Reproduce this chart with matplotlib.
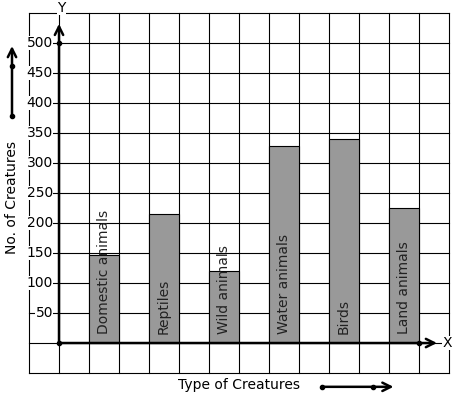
import matplotlib.pyplot as plt
import numpy as np

categories = ['Domestic animals', 'Reptiles', 'Wild animals', 'Water animals', 'Birds', 'Land animals']
counts = [147, 215, 120, 328, 340, 225]
y_ticks = [50, 100, 150, 200, 250, 300, 350, 400, 450, 500]

# one grid cell = 1 unit across, 50 creatures up
fig = plt.figure(figsize=(4.57, 3.99), dpi=100)
ax = fig.add_axes([0, 0, 1, 1])
ax.set_xlim(-1.967, 13.267)
ax.set_ylim(-93.3, 571.7)
ax.axis('off')

# grid paper
for gx in range(-1, 14):
    ax.plot([gx, gx], [-50, 550], color='black', lw=0.8, zorder=1)
for gy in range(-50, 551, 50):
    ax.plot([-1, 13], [gy, gy], color='black', lw=0.8, zorder=1)

# bars
xpos = np.arange(len(categories)) * 2 + 1.5
ax.bar(xpos, counts, width=1, color='#999999', edgecolor='black', linewidth=0.8, zorder=2)
for x, name in zip(xpos, categories):
    ax.text(x, 15, name, rotation=90, ha='center', va='bottom', fontsize=10,
            color='#222222', zorder=3)

# y tick labels
for t in y_ticks:
    ax.text(-0.2, t, str(t), ha='right', va='center', fontsize=10, zorder=3,
            bbox=dict(facecolor='white', edgecolor='none', pad=0.3))

# axes with arrows
arrow = dict(arrowstyle='->,head_length=0.6,head_width=0.3', lw=1.8, color='black',
             shrinkA=0, shrinkB=0)
ax.annotate('', xy=(0, 532), xytext=(0, 0), arrowprops=arrow, zorder=4)
ax.annotate('', xy=(12.6, 0), xytext=(0, 0), arrowprops=arrow, zorder=4)
ax.plot([0, 0, 12], [0, 500, 0], 'o', color='black', ms=3, zorder=5)
ax.text(12.95, 0, 'X', ha='center', va='center', fontsize=10, zorder=5,
        bbox=dict(facecolor='white', edgecolor='none', pad=0.2))
ax.text(0.07, 558, 'Y', ha='center', va='center', fontsize=10, zorder=5,
        bbox=dict(facecolor='white', edgecolor='none', pad=0.2))

# axis titles
ax.text(-1.567, 243, 'No. of Creatures', rotation=90, ha='center', va='center', fontsize=10)
ax.annotate('', xy=(-1.567, 495), xytext=(-1.567, 378), arrowprops=arrow)
ax.plot([-1.567, -1.567], [378, 462], 'o', color='black', ms=3)

ax.text(6.0, -70, 'Type of Creatures', ha='center', va='center', fontsize=10)
ax.annotate('', xy=(11.15, -73), xytext=(8.77, -73), arrowprops=arrow)
ax.plot([8.77, 10.47], [-73, -73], 'o', color='black', ms=3)

fig.savefig('out.png', dpi=100)
